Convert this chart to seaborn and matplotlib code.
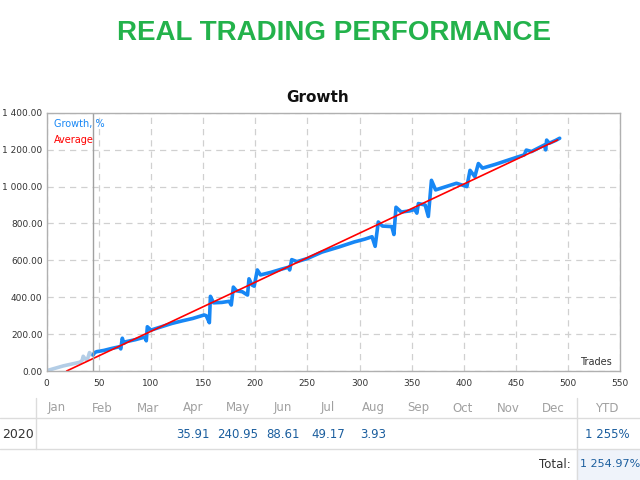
import matplotlib
matplotlib.use("Agg")
import matplotlib.pyplot as plt
import matplotlib.ticker as mticker
import pandas as pd
import seaborn as sns

# historique avant le début du compte réel (trait clair)
hist_trades = [0, 8, 16, 24, 32, 34, 35, 37, 39, 41, 43, 44.5]
hist_growth = [2, 15, 28, 38, 48, 58, 80, 65, 62, 100, 88, 90]

# croissance du compte réel, en %
trades = [44.5, 46, 48, 55, 62, 70, 71, 72.5, 74, 76, 85, 94, 95.5, 96.5, 100,
          110, 120, 130, 140, 151, 153, 156, 157, 160, 168, 175, 177, 179, 182,
          187.5, 192.6, 194, 197, 199, 202, 205, 215, 225, 232, 233, 235, 240,
          250, 264, 280, 295, 305, 312, 315, 318, 322, 331, 333, 335, 340, 348,
          353, 355, 356.5, 363, 366, 369, 373, 383, 393, 403, 406, 410.6, 414,
          418, 430, 445, 458, 460, 465, 477.5, 478.5, 479.5, 482, 488, 492]
growth = [87, 100, 105, 112, 122, 132, 120, 178, 150, 159, 170, 184, 164, 240, 222,
          240, 258, 272, 285, 304, 300, 262, 405, 370, 372, 378, 358, 455, 435,
          430, 412, 500, 466, 460, 548, 521, 535, 552, 563, 548, 604, 593,
          610, 645, 672, 700, 715, 728, 676, 808, 786, 783, 740, 888, 862, 868,
          876, 856, 908, 900, 838, 1034, 982, 1000, 1018, 1000, 1088, 1054, 1125,
          1100, 1120, 1148, 1172, 1198, 1190, 1226, 1199, 1252, 1235, 1250, 1262]

# droite de tendance "Average"
avg_trades = [19, 490]
avg_growth = [0, 1253]

start_trade = 44.5

months = ["Jan", "Feb", "Mar", "Apr", "May", "Jun",
          "Jul", "Aug", "Sep", "Oct", "Nov", "Dec"]
monthly_2020 = ["", "", "", "35.91", "240.95", "88.61",
                "49.17", "3.93", "", "", "", ""]
ytd_2020 = "1 255%"
total_label = "1 254.97%"

sns.set_style("white")
plt.rcParams["font.family"] = ["DejaVu Sans"]

fig = plt.figure(figsize=(6.4, 4.8), dpi=100)
ax = fig.add_axes([0.073, 0.227, 0.896, 0.538])

df_hist = pd.DataFrame({"trade": hist_trades, "growth": hist_growth})
df_real = pd.DataFrame({"trade": trades, "growth": growth})
df_avg = pd.DataFrame({"trade": avg_trades, "growth": avg_growth})

sns.lineplot(data=df_hist, x="trade", y="growth", color="#b3cde6",
             linewidth=2.6, sort=False, ax=ax)
sns.lineplot(data=df_real, x="trade", y="growth", color="#1787f5",
             linewidth=2.6, sort=False, ax=ax)
sns.lineplot(data=df_avg, x="trade", y="growth", color="#ff0000",
             linewidth=1.2, ax=ax)
ax.axvline(start_trade, color="#a0a0a0", linewidth=1)

ax.set_xlim(0, 550)
ax.set_ylim(0, 1400)
ax.set_xticks(range(0, 551, 50))
ax.set_yticks(range(0, 1401, 200))
ax.yaxis.set_major_formatter(
    mticker.FuncFormatter(lambda v, _: f"{v:,.2f}".replace(",", " ")))
ax.tick_params(axis="x", length=0, labelsize=6.5, colors="#333333", pad=6)
ax.tick_params(axis="y", length=0, labelsize=6.5, colors="#333333", pad=3)
ax.set_xlabel("")
ax.set_ylabel("")
ax.grid(True, color="#d0d0d0", linestyle=(0, (5, 4)), linewidth=0.9)
for s in ax.spines.values():
    s.set_color("#b0b0b0")
    s.set_linewidth(1)

ax.text(0.012, 0.955, "Growth, %", transform=ax.transAxes, color="#1787f5",
        fontsize=7, va="center")
ax.text(0.012, 0.895, "Average", transform=ax.transAxes, color="#ff0000",
        fontsize=7, va="center")
ax.text(0.985, 0.035, "Trades", transform=ax.transAxes, color="#333333",
        fontsize=7, ha="right", va="center")

fig.text(334 / 640, 1 - 33 / 480, "REAL TRADING PERFORMANCE", color="#23b24b",
         fontsize=20, fontweight="bold", ha="center", va="center",
         family="Liberation Sans")
fig.text(318 / 640, 1 - 97 / 480, "Growth", color="#111111", fontsize=11,
         fontweight="semibold", ha="center", va="center")

# tableau des rendements mensuels
def px(x, y):
    return x / 640, 1 - y / 480

month_x = [57, 102, 148, 193, 238, 283, 328, 373, 418, 463, 508, 553]
for mx, m, val in zip(month_x, months, monthly_2020):
    fig.text(*px(mx, 408), m, color="#a0a0a0", fontsize=8.5, ha="center", va="center")
    if val:
        fig.text(*px(mx, 435), val, color="#1b5e9e", fontsize=8.5,
                 ha="center", va="center")
fig.text(*px(607, 408), "YTD", color="#a0a0a0", fontsize=8.5, ha="center", va="center")
fig.text(*px(2, 435), "2020", color="#333333", fontsize=9, ha="left", va="center")
fig.text(*px(607, 435), ytd_2020, color="#1b5e9e", fontsize=8.5, ha="center", va="center")
fig.text(*px(571, 464), "Total:", color="#333333", fontsize=8.5, ha="right", va="center")
fig.text(*px(610, 464), total_label, color="#1b5e9e", fontsize=8,
         ha="center", va="center")

fig.add_artist(plt.Rectangle(px(577, 480), 63 / 640, 30 / 480,
                             color="#eff3fa", zorder=0))
fig.add_artist(plt.Line2D([0, 1], [1 - 418 / 480] * 2, color="#dcdcdc", lw=1))
fig.add_artist(plt.Line2D([0, 1], [1 - 449 / 480] * 2, color="#dcdcdc", lw=1))
fig.add_artist(plt.Line2D([36 / 640] * 2, [1 - 398 / 480, 1 - 449 / 480],
                          color="#dcdcdc", lw=1))
fig.add_artist(plt.Line2D([577 / 640] * 2, [1 - 398 / 480, 0],
                          color="#dcdcdc", lw=1))

fig.savefig("out.png", dpi=100)
